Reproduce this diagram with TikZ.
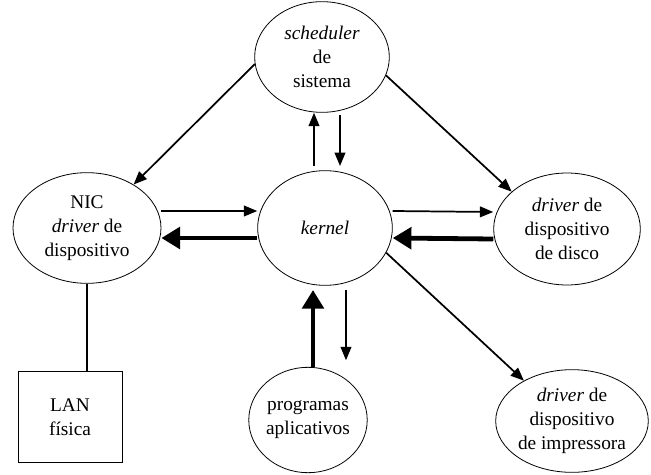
\documentclass[tikz,border=0pt]{standalone}
\usepackage{fontspec}
\setmainfont{Liberation Serif}
\usetikzlibrary{arrows.meta,shapes.geometric,positioning}
\tikzset{
proc/.style={ellipse,draw=black,line width=0.6pt,inner sep=0pt,align=center,font=\fontsize{14.5}{18}\selectfont},
thin/.style={line width=1.3pt,-{Triangle[length=10pt,width=8pt]}},
thick/.style={line width=3.6pt,-{Triangle[length=14pt,width=16pt]}}
}
\begin{document}
\begin{tikzpicture}[x=0.75pt,y=-0.75pt]
\useasboundingbox (0,0) rectangle (651,475);
\node at (322,57)[proc,minimum width=101pt,minimum height=83pt](sched){\textit{scheduler}\\de\\sistema};
\node at (87,228)[proc,minimum width=111pt,minimum height=83pt](nic){NIC\\\textit{driver} de\\dispositivo};
\node at (325,228)[proc,minimum width=101pt,minimum height=86pt](kernel){\textit{kernel}};
\node at (567,229)[proc,minimum width=110pt,minimum height=84pt](disco){\textit{driver} de\\dispositivo\\de disco};
\node at (308,420)[proc,minimum width=88pt,minimum height=79pt](prog){programas\\aplicativos};
\node at (572,421)[proc,minimum width=109pt,minimum height=77pt](impr){\textit{driver} de\\dispositivo\\de impressora};
\node at (70,417)[rectangle,draw=black,line width=0.6pt,minimum width=78pt,minimum height=68pt,align=center,font=\fontsize{14.5}{18}\selectfont](lan){LAN\\física};
\coordinate (kup) at (314,166);
\coordinate (kdn) at (340,166);
\coordinate (pup) at (313,290);
\coordinate (pdn) at (346,290);
\draw[thin] (sched.186) -- (nic.43);
\draw[thin] (sched.344) -- (disco.146);
\draw[thin] (kup) -- (kup |- sched.south);
\draw[thin,shorten <=2pt] (kdn |- sched.south) -- (kdn);
\draw[thin] ([yshift=12.75pt]nic.east) -- ([yshift=12.75pt]kernel.west);
\draw[thick] ([yshift=-7.5pt]kernel.west) -- ([yshift=-7.5pt]nic.east);
\draw[thin] ([yshift=12.75pt]kernel.east) -- ([yshift=12.75pt]disco.west);
\draw[thick] ([yshift=-7.5pt]disco.west) -- ([yshift=-7.5pt]kernel.east);
\draw[thin] (kernel.338) -- (impr.140);
\draw[thick] (pup |- prog.north) -- (pup);
\draw[thin,shorten >=5pt] (pdn) -- (pdn |- prog.north);
\draw[line width=1.3pt] (nic.south) -- (nic.south |- lan.north);
\end{tikzpicture}
\end{document}
